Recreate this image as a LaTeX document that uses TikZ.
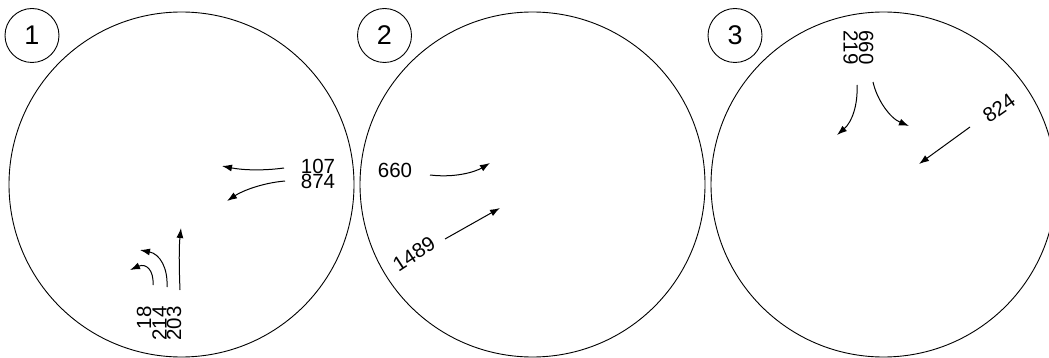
\documentclass[tikz,border=0pt]{standalone}
\usepackage{fontspec}
\setmainfont{Liberation Sans}
\usetikzlibrary{arrows.meta}
\begin{document}
\begin{tikzpicture}[x=1pt,y=-1pt,
  bigcircle/.style={draw=black,line width=0.9pt,circle,minimum size=345pt,inner sep=0pt},
  tagcircle/.style={draw=black,line width=0.9pt,circle,minimum size=54pt,inner sep=0pt,font=\fontsize{27}{27}\selectfont},
  lbl/.style={font=\fontsize{20.5}{14.5}\selectfont,inner sep=0pt},
  flow/.style={line width=1pt,-{Latex[length=10pt,width=7pt]}}]
\clip (0,0) rectangle (1049,358);
% big circles
\node[bigcircle] (c1) at (181.5,184.5) {};
\node[bigcircle] (c2) at (532.5,184.5) {};
\node[bigcircle] (c3) at (883.5,184.5) {};
% tag circles
\node[tagcircle] (t1) at (32,35.5) {1};
\node[tagcircle] (t2) at (384.5,35.5) {2};
\node[tagcircle] (t3) at (735,35.5) {3};
% circle 1 labels
\node[lbl,align=left] (l107) at (318,174) {107\\874};
\node[lbl,rotate=90,anchor=east,align=right] (l18) at (159,306) {18\\214\\203};
% circle 2 labels
\node[lbl] (l660) at (395,170) {660};
\node[lbl,rotate=33] (l1489) at (414,254) {1489};
% circle 3 labels
\node[lbl,rotate=-90,align=left] (l660b) at (858.5,47.5) {660\\219};
\node[lbl,rotate=35] (l824) at (999,108) {824};
% arrow end coordinates
\coordinate (a1s) at (284,168); \coordinate (a1e) at (222,166);
\coordinate (a2s) at (285,181); \coordinate (a2e) at (227,201);
\coordinate (a3s) at (180,290); \coordinate (a3e) at (181,228);
\coordinate (a4s) at (167,287); \coordinate (a4e) at (140,250);
\coordinate (a5s) at (153,285); \coordinate (a5e) at (130,270);
\coordinate (b1s) at (430,175); \coordinate (b1e) at (490,163);
\coordinate (b2s) at (445,239); \coordinate (b2e) at (500,208);
\coordinate (c1s) at (857,85);  \coordinate (c1e) at (837,135);
\coordinate (c2s) at (873,82);  \coordinate (c2e) at (909,126);
\coordinate (c3s) at (970,127); \coordinate (c3e) at (919,164);
% circle 1 arrows
\draw[flow] (a1s) .. controls (262,171) and (242,170) .. (a1e);
\draw[flow] (a2s) .. controls (262,183) and (242,191) .. (a2e);
\draw[flow] (a3s) .. controls (179,266) and (179,246) .. (a3e);
\draw[flow] (a4s) .. controls (168,268) and (160,254) .. (a4e);
\draw[flow] (a5s) .. controls (154,270) and (146,263) .. (a5e);
% circle 2 arrows
\draw[flow] (b1s) .. controls (455,178) and (475,172) .. (b1e);
\draw[flow] (b2s) -- (b2e);
% circle 3 arrows
\draw[flow] (c1s) .. controls (858,105) and (852,122) .. (c1e);
\draw[flow] (c2s) .. controls (877,100) and (890,118) .. (c2e);
\draw[flow] (c3s) -- (c3e);
\end{tikzpicture}
\end{document}
